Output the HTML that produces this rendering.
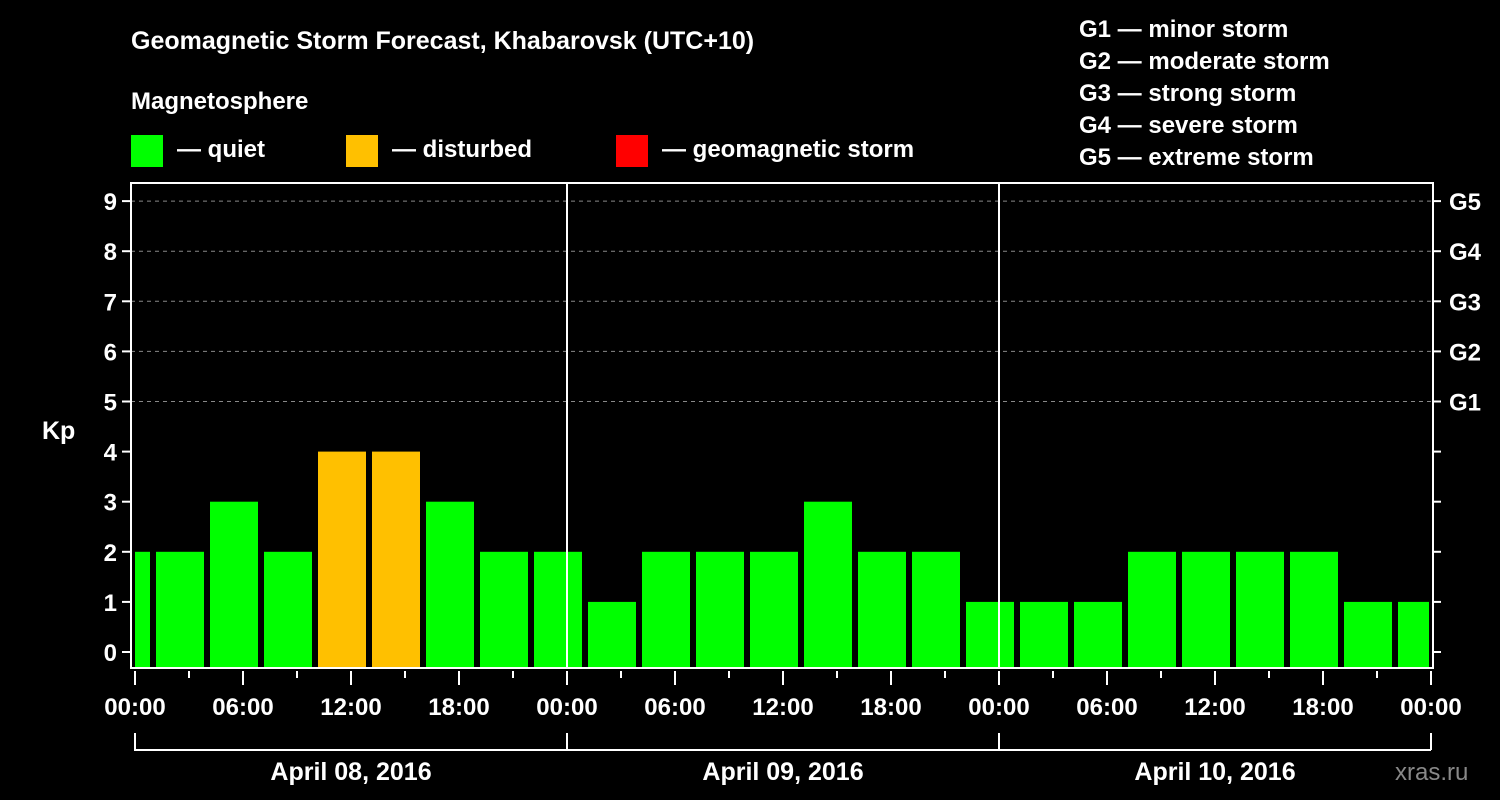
<!DOCTYPE html>
<html><head><meta charset="utf-8"><style>
html,body{margin:0;padding:0;background:#000;}
svg{display:block;font-family:"Liberation Sans",Arial,sans-serif;font-weight:bold;}
</style></head><body>
<svg id="chart" width="1500" height="800" viewBox="0 0 1500 800">
<rect width="1500" height="800" fill="#000"/>
<text x="131" y="49" fill="#fff" font-size="25">Geomagnetic Storm Forecast, Khabarovsk (UTC+10)</text>
<text x="131" y="109" fill="#fff" font-size="24">Magnetosphere</text>
<g><rect x="131" y="135" width="32" height="32" fill="#00ff00"/><text x="177" y="157" fill="#fff" font-size="24">— quiet</text></g>
<g><rect x="346" y="135" width="32" height="32" fill="#ffc000"/><text x="392" y="157" fill="#fff" font-size="24">— disturbed</text></g>
<g><rect x="616" y="135" width="32" height="32" fill="#ff0000"/><text x="662" y="157" fill="#fff" font-size="24">— geomagnetic storm</text></g>
<g fill="#fff" font-size="24">
<text x="1079" y="37">G1 — minor storm</text>
<text x="1079" y="69">G2 — moderate storm</text>
<text x="1079" y="101">G3 — strong storm</text>
<text x="1079" y="133">G4 — severe storm</text>
<text x="1079" y="165">G5 — extreme storm</text>
</g>
<text x="42" y="439" fill="#fff" font-size="25">Kp</text>
<text x="1395" y="780" fill="#888" font-size="24" font-weight="normal">xras.ru</text>
<g id="grid"></g><g id="bars"></g><g id="axes"></g>
</svg>
<script>
const kpValues=[2,2,3,2,4,4,3,2,2,1,2,2,2,3,2,2,1,1,1,2,2,2,2,1,1];
const binStartHours=[-2,1,4,7,10,13,16,19,22,25,28,31,34,37,40,43,46,49,52,55,58,61,64,67,70];
const dayLabels=["April 08, 2016","April 09, 2016","April 10, 2016"];
const hourLabels=["00:00","06:00","12:00","18:00"];
const gLabels=["G1","G2","G3","G4","G5"];
const NS="http://www.w3.org/2000/svg";
const X0=135,PXH=18,Y0=652,PXK=50.1,L=131,R=1433,T=183,B=668;
const x=h=>X0+h*PXH, y=k=>Y0-k*PXK;
function mk(tag,at,parent){const e=document.createElementNS(NS,tag);for(const k in at)e.setAttribute(k,at[k]);document.getElementById(parent).appendChild(e);return e;}
for(let k=5;k<=9;k++){const e=mk('line',{x1:L,x2:R,y1:y(k),y2:y(k),stroke:'#888','stroke-dasharray':'4,4','stroke-width':1},'grid');

}
kpValues.forEach((v,i)=>{let a=x(binStartHours[i])+3,b=x(binStartHours[i]+3)-3;a=Math.max(a,L+4);b=Math.min(b,R-4);
const c=v>=5?'#ff0000':v>=4?'#ffc000':'#00ff00';
const e=mk('rect',{x:a,y:y(v),width:b-a,height:B-y(v),fill:c},'bars');

});
[1,2].forEach(d=>{const e=mk('line',{x1:x(24*d),x2:x(24*d),y1:T,y2:B,stroke:'#fff','stroke-width':2},'axes');

});
const fr=mk('rect',{x:L,y:T,width:R-L,height:B-T,fill:'none',stroke:'#fff','stroke-width':2},'axes');


for(let k=0;k<=9;k++){mk('line',{x1:L-9,x2:L,y1:y(k),y2:y(k),stroke:'#fff','stroke-width':2},'axes');
mk('line',{x1:R,x2:R+8,y1:y(k),y2:y(k),stroke:'#fff','stroke-width':2},'axes');
const t=mk('text',{x:L-14,y:y(k)+9,fill:'#fff','font-size':24,'text-anchor':'end'},'axes');t.textContent=k;

}
gLabels.forEach((g,i)=>{const t=mk('text',{x:1449,y:y(5+i)+9,fill:'#fff','font-size':24},'axes');t.textContent=g;

});
for(let h=0;h<=72;h+=3){const maj=h%6==0;mk('line',{x1:x(h),x2:x(h),y1:B+3,y2:B+(maj?17:10),stroke:'#fff','stroke-width':2},'axes');
if(maj){const t=mk('text',{x:x(h),y:715,fill:'#fff','font-size':24,'text-anchor':'middle'},'axes');t.textContent=h==72?hourLabels[0]:hourLabels[(h%24)/6];

}}
dayLabels.forEach((d,i)=>{const a=x(24*i),b=x(24*i+24);
mk('path',{d:`M${a} 733V750H${b}M${b} 733V750`,stroke:'#fff','stroke-width':2,fill:'none'},'axes');
const t=mk('text',{x:(a+b)/2,y:780,fill:'#fff','font-size':25,'text-anchor':'middle'},'axes');t.textContent=d;

});
</script>
</body></html>
